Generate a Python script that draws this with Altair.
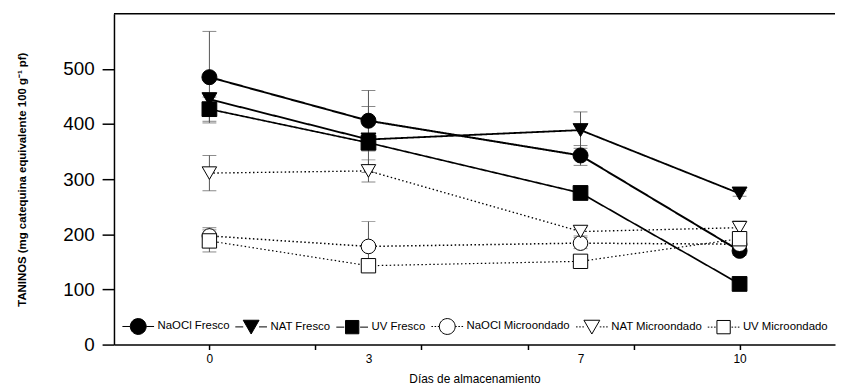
import altair as alt
import pandas as pd

days = [0, 3, 7, 10]
series = ["NaOCl Fresco", "NAT Fresco", "UV Fresco",
          "NaOCl Microondado", "NAT Microondado", "UV Microondado"]

naocl_fresco = [485, 406, 343, 170]
nat_fresco = [445, 372, 389, 274]
uv_fresco = [427, 366, 275, 110]
naocl_micro = [197, 178, 184, 182]
nat_micro = [311, 315, 205, 212]
uv_micro = [188, 143, 151, 192]

err_naocl_fresco = [83, 55, 18, 8]
err_nat_fresco = [12, 60, 33, 5]
err_uv_fresco = [22, 10, 10, 5]
err_naocl_micro = [15, 45, 10, 8]
err_nat_micro = [32, 20, 8, 12]
err_uv_micro = [20, 8, 8, 10]

all_vals = [naocl_fresco, nat_fresco, uv_fresco, naocl_micro, nat_micro, uv_micro]
all_errs = [err_naocl_fresco, err_nat_fresco, err_uv_fresco,
            err_naocl_micro, err_nat_micro, err_uv_micro]

rows = []
for s, vals, errs in zip(series, all_vals, all_errs):
    for d, v, e in zip(days, vals, errs):
        rows.append(dict(series=s, day=d, value=v, lo=v - e, hi=v + e))
df = pd.DataFrame(rows)

shapes = ["circle", "triangle-down", "square", "circle", "triangle-down", "square"]
fills = ["black", "black", "black", "white", "white", "white"]
strokes = ["black"] * 6
sizes = [230, 210, 180, 230, 210, 180]
dashes = [[1, 0], [1, 0], [1, 0], [1.5, 2.5], [1.5, 2.5], [1.5, 2.5]]
widths = [2, 1.2, 1.2, 1.3, 1.3, 1.3]

solid = "M-1,0L-0.5,0M0.5,0L1,0"
dotted = "M-1,0L-0.9,0M-0.8,0L-0.7,0M-0.6,0L-0.5,0M0.5,0L0.6,0M0.7,0L0.8,0M0.9,0L1,0"
circ = "M-0.5,0A0.5,0.5,0,1,1,0.5,0A0.5,0.5,0,1,1,-0.5,0Z"
tri = "M-0.5,-0.42L0.5,-0.42L0,0.45Z"
sq = "M-0.42,-0.42L0.42,-0.42L0.42,0.42L-0.42,0.42Z"
legend_paths = [solid + circ, solid + tri, solid + sq,
                dotted + circ, dotted + tri, dotted + sq]

FONT = "Liberation Sans"

xscale = alt.Scale(domain=[-1.8, 11.8], nice=False, zero=False)
yscale = alt.Scale(domain=[0, 600], nice=False)

xaxis = alt.Axis(
    title="Días de almacenamiento",
    values=[0, 2, 3, 4, 6, 7, 8, 10],
    labelExpr="indexof([0,3,7,10], datum.value) >= 0 ? datum.label : ''",
    tickOpacity={"condition": {"test": "datum.value == 3 || datum.value == 7", "value": 0}, "value": 1},
    tickSize=5, labelFontSize=12, labelPadding=4, titleFontSize=12,
    titleFontWeight="normal", titlePadding=9, grid=False,
)
yaxis = alt.Axis(
    title="TANINOS (mg catequina equivalente 100 g⁻¹ pf)",
    values=[0, 100, 200, 300, 400, 500],
    tickSize=12, labelFontSize=19, labelPadding=8, titleFontSize=11.5,
    titleFontWeight="bold", titlePadding=36, grid=False,
)

X = alt.X("day:Q", scale=xscale, axis=xaxis)
Y = alt.Y("value:Q", scale=yscale, axis=yaxis)

base = alt.Chart(df)

err = base.mark_rule(color="#555555", strokeWidth=1).encode(
    x=X, y=alt.Y("lo:Q", scale=yscale, axis=yaxis), y2="hi:Q")
cap_lo = base.mark_tick(color="#555555", thickness=1, size=14, orient="horizontal").encode(
    x=X, y=alt.Y("lo:Q", scale=yscale, axis=yaxis))
cap_hi = base.mark_tick(color="#555555", thickness=1, size=14, orient="horizontal").encode(
    x=X, y=alt.Y("hi:Q", scale=yscale, axis=yaxis))

lines = base.mark_line(color="black").encode(
    x=X, y=Y, detail="series:N",
    strokeDash=alt.StrokeDash("series:N", scale=alt.Scale(domain=series, range=dashes), legend=None),
    strokeWidth=alt.StrokeWidth("series:N", scale=alt.Scale(domain=series, range=widths), legend=None),
)

points = base.mark_point(filled=True, opacity=1, stroke="black", strokeWidth=1).encode(
    x=X, y=Y,
    shape=alt.Shape("series:N", scale=alt.Scale(domain=series, range=shapes), legend=None),
    fill=alt.Fill("series:N", scale=alt.Scale(domain=series, range=fills), legend=None),
    size=alt.Size("series:N", scale=alt.Scale(domain=series, range=sizes), legend=None),
)

leg = dict(title=None, orient="none", legendX=8, legendY=299, direction="horizontal",
           symbolSize=1024, symbolStrokeColor="black", symbolStrokeWidth=1,
           labelFontSize=11.5, labelFont=FONT, labelOffset=3, columnPadding=3,
           padding=0, labelColor="black", labelLimit=300)

legend_layer = base.mark_point(filled=True, opacity=1, strokeWidth=1).encode(
    x=X, y=Y,
    shape=alt.Shape("series:N", scale=alt.Scale(domain=series, range=legend_paths), legend=alt.Legend(**leg)),
    fill=alt.Fill("series:N", scale=alt.Scale(domain=series, range=fills), legend=alt.Legend(**leg)),
    stroke=alt.Stroke("series:N", scale=alt.Scale(domain=series, range=strokes), legend=alt.Legend(**leg)),
).transform_filter("false")

top = alt.Chart(pd.DataFrame({"a": [0]})).mark_rule(color="black", strokeWidth=1.5).encode(
    x=alt.datum(-1.8, scale=xscale), x2=alt.datum(11.8), y=alt.datum(600, scale=yscale))

chart = alt.layer(err, cap_lo, cap_hi, lines, points, legend_layer, top).resolve_scale(
    shape="independent", fill="independent", stroke="independent"
).properties(
    width=728, height=334, autosize="none",
    padding={"left": 107, "top": 4, "right": 1, "bottom": 40},
).configure_axis(
    domainColor="black", domainWidth=1.5, tickColor="black", tickWidth=1.5,
    labelColor="black", titleColor="black", labelFont=FONT, titleFont=FONT,
).configure_view(stroke=None)

chart.save("out.html", embed_options={"renderer": "svg", "actions": False})
